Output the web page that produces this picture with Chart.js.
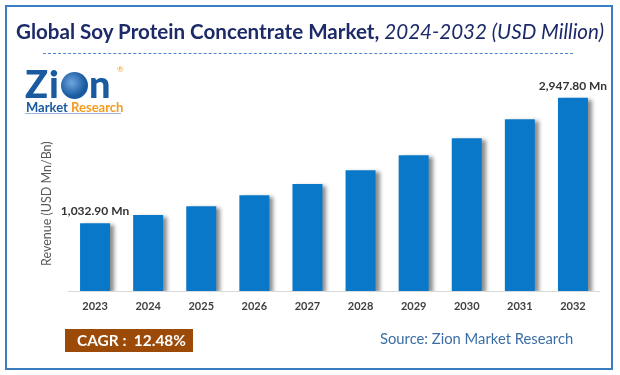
<!DOCTYPE html>
<html>
<head>
<meta charset="utf-8">
<script src="https://cdn.jsdelivr.net/npm/chart.js@4.4.1/dist/chart.umd.min.js"></script>
<style>
  html, body { margin: 0; padding: 0; background: #fff; }
  #wrap { position: relative; width: 620px; height: 375px; overflow: hidden; font-family: Lato, "Open Sans", sans-serif; }
  #chart { position: absolute; left: 0; top: 0; }
  .frame { position: absolute; left: 5px; top: 5px; width: 604px; height: 361px; border: 2px solid #3a7dc0; }
  .txt { position: absolute; white-space: nowrap; line-height: normal; }
  #title { color: #1c2a68; font-weight: 700; font-size: 21px; }
  #title i { font-weight: 400; }
  .dash { position: absolute; left: 43px; top: 53px; width: 530px; border-top: 1px dashed #4f86d6; }
  #ytitle { color: #595959; font-size: 12.5px; transform-origin: 0 0; transform: rotate(-90deg); }
  .cagr { position: absolute; left: 65px; top: 329px; width: 128px; height: 23px; background: #9b4a08; }
  #cagr { color: #fff; font-weight: 700; font-size: 15px; }
  #source { color: #3c6ea6; font-size: 15px; }
  .logo { position: absolute; left: 25px; top: 62px; width: 100px; height: 52px; }
  .logo .big { position: absolute; left: 0; top: -2px; font-size: 38px; font-weight: 900; color: #1a5aa0; letter-spacing: 1px; }
  .logo .globe { display: inline-block; width: 27px; height: 27px; border-radius: 50%; vertical-align: -1px;
    background: radial-gradient(circle at 40% 40%, #6fa6e0 0, #1a5aa0 60%); margin: 0 1px; }
  .logo .reg { position: absolute; left: 92px; top: 2px; font-size: 8px; color: #f39c1f; }
  .logo .sub { position: absolute; left: 1px; top: 37px; font-size: 13px; font-weight: 700; }
  .logo .m { color: #1a5aa0; }
  .logo .r { color: #f39c1f; }
  .logo .line { position: absolute; left: 0; top: 51px; width: 96px; border-top: 1px solid #9ab8dc; }
</style>
</head>
<body>
<div id="wrap">
  <canvas id="chart" width="620" height="375"></canvas>
  <div class="frame"></div>
  <div class="txt" id="title">Global Soy Protein Concentrate Market, <i>2024-2032 (USD Million)</i></div>
  <div class="dash"></div>
  <div class="logo">
    <div class="big">Zi<span class="globe"></span>n</div>
    <div class="reg">&reg;</div>
    <div class="sub"><span class="m">Market</span>&nbsp;<span class="r">Research</span></div>
    <div class="line"></div>
  </div>
  <div class="txt" id="ytitle">Revenue (USD Mn/Bn)</div>
  <div class="cagr"></div>
  <div class="txt" id="cagr">CAGR :&nbsp; 12.48%</div>
  <div class="txt" id="source">Source: Zion Market Research</div>
</div>
<script>
// values (USD Million)
const years = ['2023', '2024', '2025', '2026', '2027', '2028', '2029', '2030', '2031', '2032'];
const revenue = [1032.9, 1159, 1292, 1459, 1632, 1841, 2069, 2329, 2618, 2947.8];
const barLabels = ['1,032.90 Mn', '', '', '', '', '', '', '', '', '2,947.80 Mn'];

const BAR_BLUE = '#0a78c9';

// put a text box so its baseline sits at y, scaled to a given width
function place(id, x, baseline, width, align) {
  const el = document.getElementById(id);
  const fs = parseFloat(getComputedStyle(el).fontSize);
  const size = fs * width / el.offsetWidth;
  el.style.fontSize = size + 'px';
  const left = align === 'center' ? x - el.offsetWidth / 2 : x;
  el.style.left = left + 'px';
  el.style.top = (baseline - size * 0.987) + 'px';
  return el;
}

// soft shadow to the lower right of each bar
const barShadow = {
  id: 'barShadow',
  beforeDatasetsDraw(chart) {
    const ctx = chart.ctx;
    ctx.save();
    ctx.shadowColor = 'rgba(0, 0, 0, 0.45)';
    ctx.shadowOffsetX = 4;
    ctx.shadowOffsetY = 2;
    ctx.shadowBlur = 4;
  },
  afterDatasetsDraw(chart) {
    chart.ctx.restore();
  }
};

// value labels over the first and last bar
const valueLabels = {
  id: 'valueLabels',
  afterDatasetsDraw(chart) {
    const ctx = chart.ctx;
    const bars = chart.getDatasetMeta(0).data;
    ctx.save();
    ctx.font = 'bold 12px Lato';
    ctx.fillStyle = '#333333';
    ctx.textAlign = 'center';
    ctx.textBaseline = 'alphabetic';
    bars.forEach((bar, i) => {
      if (!barLabels[i]) return;
      ctx.fillText(barLabels[i], bar.x, bar.y - 8);
    });
    ctx.restore();
  }
};

new Chart(document.getElementById('chart'), {
  type: 'bar',
  data: {
    labels: years,
    datasets: [{
      data: revenue,
      backgroundColor: BAR_BLUE,
      borderWidth: 0,
      barPercentage: 0.565,
      categoryPercentage: 1
    }]
  },
  options: {
    responsive: false,
    animation: false,
    layout: { padding: { left: 68.5, right: 20.5, top: 74.6, bottom: 0 } },
    scales: {
      x: {
        grid: { display: false, drawTicks: false },
        border: { display: true, color: '#d9d9d9', width: 1 },
        ticks: {
          color: '#404040',
          padding: 9,
          font: { family: 'Lato', size: 11, weight: 'bold' }
        },
        afterFit(scale) { scale.height = 375 - 291; }
      },
      y: {
        display: false,
        min: 0,
        max: 3300
      }
    },
    plugins: {
      legend: { display: false },
      tooltip: { enabled: false }
    }
  },
  plugins: [barShadow, valueLabels]
});

place('title', 310, 39, 588, 'center');
place('cagr', 77, 346.7, 109);
place('source', 380, 344, 193);
const yt = place('ytitle', 0, 0, 125);
// rotated label: centred on x 45, y 203
yt.style.left = (45 - parseFloat(yt.style.fontSize) * 0.6 + 1) + 'px';
yt.style.top = (203 + yt.offsetWidth / 2) + 'px';
</script>
</body>
</html>
